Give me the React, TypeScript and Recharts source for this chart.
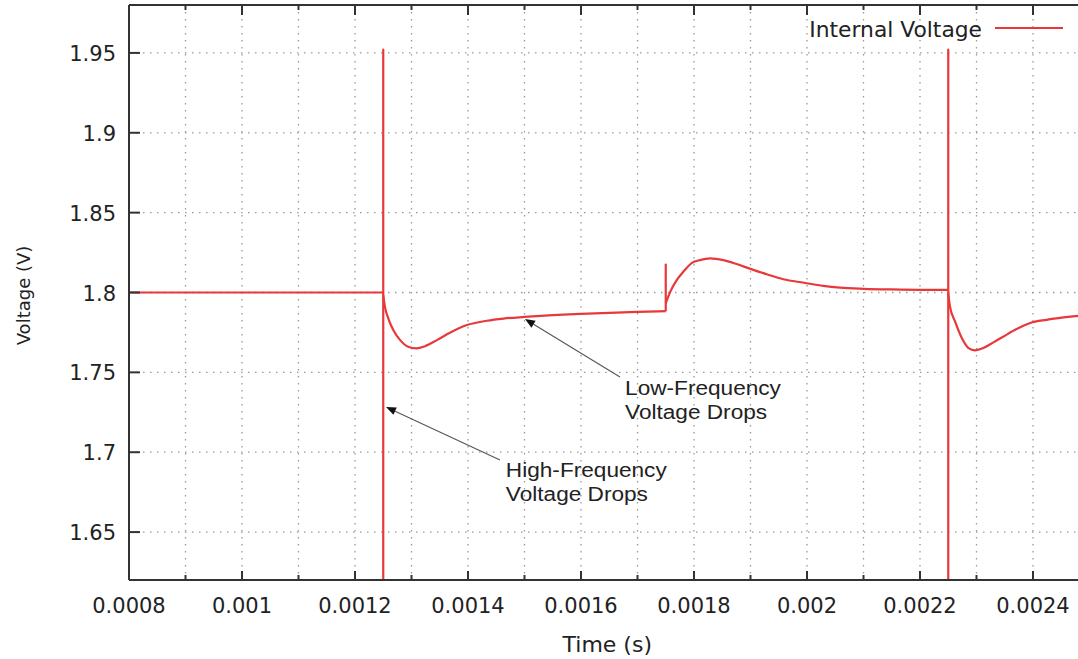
import React from 'react';
import {
  LineChart,
  Line,
  XAxis,
  YAxis,
  CartesianGrid,
  ReferenceLine,
  ReferenceDot,
  Legend,
} from 'recharts';

// ---- data (time in s, voltage in V) ----
// steady level before the first load step
const flatTime = [0.0008, 0.00125];
const flatVoltage = [1.8, 1.8];

// vertical transients (several samples at the same instant)
const spike1Time = [0.00125, 0.00125, 0.00125];
const spike1Voltage = [1.8, 1.952, 1.55];
const spike2Time = [0.00175, 0.00175, 0.00175];
const spike2Voltage = [1.7883, 1.8175, 1.7932];
const spike3Time = [0.00225, 0.00225, 0.00225];
const spike3Voltage = [1.8017, 1.952, 1.55];

// first low-frequency drop and recovery
const dip1Time = [
  0.00125, 0.001253, 0.001259, 0.001268, 0.00128, 0.001294, 0.001309, 0.001324, 0.001345,
  0.001368, 0.001398, 0.001433, 0.001463, 0.0015, 0.00155, 0.0016, 0.00165, 0.0017, 0.00175,
];
const dip1Voltage = [
  1.7983, 1.791, 1.7837, 1.7764, 1.7702, 1.766, 1.765, 1.7664, 1.7702,
  1.7748, 1.7796, 1.7823, 1.7837, 1.7847, 1.7858, 1.7866, 1.7873, 1.7879, 1.7883,
];

// overshoot after load release
const riseTime = [
  0.00175, 0.0017575, 0.0017694, 0.0017811, 0.0017965, 0.0018106, 0.0018283, 0.0018519,
  0.0018755, 0.0018973, 0.0019287, 0.0019581, 0.0019947, 0.0020289, 0.0020584, 0.0021,
  0.00215, 0.0022, 0.00225,
];
const riseVoltage = [
  1.7932, 1.8001, 1.8078, 1.813, 1.8186, 1.8203, 1.8214, 1.8203,
  1.8178, 1.8151, 1.8114, 1.8083, 1.8061, 1.8041, 1.803, 1.8023,
  1.8019, 1.8017, 1.8017,
];

// second low-frequency drop
const dip2Time = [
  0.00225, 0.002253, 0.002262, 0.002274, 0.002286, 0.002297, 0.002312, 0.00233, 0.002348,
  0.002371, 0.002395, 0.002424, 0.002454, 0.00248, 0.0025,
];
const dip2Voltage = [
  1.7996, 1.7913, 1.7819, 1.7715, 1.7652, 1.7638, 1.7652, 1.7688, 1.7725,
  1.7771, 1.7809, 1.7829, 1.7844, 1.7854, 1.786,
];

const xTicks = [
  0.0008, 0.0009, 0.001, 0.0011, 0.0012, 0.0013, 0.0014, 0.0015, 0.0016,
  0.0017, 0.0018, 0.0019, 0.002, 0.0021, 0.0022, 0.0023, 0.0024, 0.0025,
];
const xTickLabels = [
  '0.0008', '', '0.001', '', '0.0012', '', '0.0014', '', '0.0016',
  '', '0.0018', '', '0.002', '', '0.0022', '', '0.0024', '',
];
const yTicks = [1.65, 1.7, 1.75, 1.8, 1.85, 1.9, 1.95];
const yTickLabels = ['1.65', '1.7', '1.75', '1.8', '1.85', '1.9', '1.95'];

const seriesName = 'Internal Voltage';
const xAxisTitle = 'Time (s)';
const yAxisTitle = 'Voltage (V)';

const annotationLines = [
  ['Low-Frequency', 'Voltage Drops'],
  ['High-Frequency', 'Voltage Drops'],
];
const annotationTextAt = [
  [0.001678, 1.7358],
  [0.001467, 1.6845],
];
const arrowFrom = [
  [0.001669, 1.7471],
  [0.0014566, 1.6951],
];
const arrowTo = [
  [0.0015009, 1.7834],
  [0.0012549, 1.7283],
];

const toRows = (ts: number[], vs: number[]) => ts.map((t, i) => ({ t, v: vs[i] }));

const segments = [
  { key: 'flat', curve: 'linear', data: toRows(flatTime, flatVoltage) },
  { key: 'spike1', curve: 'linear', data: toRows(spike1Time, spike1Voltage) },
  { key: 'dip1', curve: 'monotone', data: toRows(dip1Time, dip1Voltage) },
  { key: 'spike2', curve: 'linear', data: toRows(spike2Time, spike2Voltage) },
  { key: 'rise', curve: 'monotone', data: toRows(riseTime, riseVoltage) },
  { key: 'spike3', curve: 'linear', data: toRows(spike3Time, spike3Voltage) },
  { key: 'dip2', curve: 'monotone', data: toRows(dip2Time, dip2Voltage) },
];

// ---- styling ----
const RED = '#e8383a';
const AXIS = '#333333';
const TEXT = '#222222';
const TICK_FONT = '"DejaVu Sans", Verdana, sans-serif';
const NOTE_FONT = '"Liberation Sans", Arial, sans-serif';

const BottomTick = (props: any) => {
  const { x, y, index } = props;
  const label = xTickLabels[index] || '';
  const major = label !== '';
  return (
    <g>
      <line x1={x} x2={x} y1={y} y2={y - (major ? 9 : 5)} stroke={AXIS} strokeWidth={2} />
      {major && (
        <text x={x} y={y + 33} textAnchor="middle" fontFamily={TICK_FONT} fontSize={21} fill={TEXT}>
          {label}
        </text>
      )}
    </g>
  );
};

const TopTick = (props: any) => {
  const { x, y, index } = props;
  const major = (xTickLabels[index] || '') !== '';
  return <line x1={x} x2={x} y1={y} y2={y + (major ? 10 : 5)} stroke={AXIS} strokeWidth={2} />;
};

const LeftTick = (props: any) => {
  const { x, y, index } = props;
  return (
    <g>
      <line x1={x} x2={x + 11} y1={y} y2={y} stroke={AXIS} strokeWidth={2} />
      <text x={x - 13} y={y + 8} textAnchor="end" fontFamily={TICK_FONT} fontSize={21} fill={TEXT}>
        {yTickLabels[index]}
      </text>
    </g>
  );
};

const ArrowShape = (props: any) => {
  const { x1, y1, x2, y2 } = props;
  const dx = x2 - x1;
  const dy = y2 - y1;
  const len = Math.sqrt(dx * dx + dy * dy) || 1;
  const ux = dx / len;
  const uy = dy / len;
  const hl = 10;
  const hw = 4;
  const bx = x2 - ux * hl;
  const by = y2 - uy * hl;
  const p = `${x2},${y2} ${bx - uy * hw},${by + ux * hw} ${bx + uy * hw},${by - ux * hw}`;
  return (
    <g>
      <line x1={x1} y1={y1} x2={bx} y2={by} stroke="#555" strokeWidth={1.1} />
      <polygon points={p} fill="#111" />
    </g>
  );
};

const makeNote = (lines: string[]) => (props: any) => {
  const { cx, cy } = props;
  return (
    <g transform={`translate(${cx},${cy}) scale(1.16,1)`}>
      {lines.map((s, i) => (
        <text key={i} x={0} y={i * 24} fontFamily={NOTE_FONT} fontSize={19.5} fill={TEXT}>
          {s}
        </text>
      ))}
    </g>
  );
};

const renderLegend = () => (
  <svg width={1078} height={50} style={{ overflow: 'visible', display: 'block' }}>
    <text x={982} y={37} textAnchor="end" fontFamily={TICK_FONT} fontSize={21.8} fill={TEXT}>
      {seriesName}
    </text>
    <line x1={995} x2={1063} y1={28} y2={28} stroke={RED} strokeWidth={2} />
  </svg>
);

export default function App() {
  return (
    <div
      style={{
        position: 'absolute',
        left: 0,
        top: 0,
        width: 1078,
        height: 659,
        overflow: 'hidden',
        background: '#ffffff',
      }}
    >
      <LineChart width={1092} height={659} margin={{ top: 0, right: 2.5, bottom: 0, left: 0 }}>
        <CartesianGrid stroke="#9a9a9a" strokeWidth={1.3} strokeDasharray="1.5 5.5" />
        <XAxis
          dataKey="t"
          type="number"
          domain={[0.0008, 0.0025]}
          allowDataOverflow
          ticks={xTicks}
          interval={0}
          height={79}
          tickSize={0}
          tickMargin={0}
          tickLine={false}
          tick={<BottomTick />}
          axisLine={{ stroke: AXIS, strokeWidth: 2 }}
          label={{
            content: (p: any) => {
              const vb = p.viewBox || {};
              return (
                <text
                  x={vb.x + vb.width / 2 - 2}
                  y={vb.y + vb.height - 7}
                  textAnchor="middle"
                  fontFamily={TICK_FONT}
                  fontSize={22}
                  fill={TEXT}
                >
                  {xAxisTitle}
                </text>
              );
            },
          }}
        />
        <XAxis
          xAxisId="top"
          orientation="top"
          dataKey="t"
          type="number"
          domain={[0.0008, 0.0025]}
          allowDataOverflow
          ticks={xTicks}
          interval={0}
          height={5}
          tickSize={0}
          tickMargin={0}
          tickLine={false}
          tick={<TopTick />}
          axisLine={{ stroke: AXIS, strokeWidth: 2 }}
        />
        <YAxis
          type="number"
          domain={[1.62, 1.98]}
          allowDataOverflow
          ticks={yTicks}
          interval={0}
          width={129}
          tickSize={0}
          tickMargin={0}
          tickLine={false}
          tick={<LeftTick />}
          axisLine={{ stroke: AXIS, strokeWidth: 2 }}
          label={{
            content: (p: any) => {
              const vb = p.viewBox || {};
              const cx = 23;
              const cy = vb.y + vb.height / 2 + 3;
              return (
                <text
                  x={cx}
                  y={cy}
                  transform={`rotate(-90 ${cx} ${cy})`}
                  textAnchor="middle"
                  dominantBaseline="central"
                  fontFamily={TICK_FONT}
                  fontSize={18}
                  fill={TEXT}
                >
                  {yAxisTitle}
                </text>
              );
            },
          }}
        />
        <Legend
          content={renderLegend}
          wrapperStyle={{ position: 'absolute', left: 0, top: 0, width: 1078, height: 0, overflow: 'visible' }}
        />
        {segments.map((s) => (
          <Line
            key={s.key}
            data={s.data}
            type={s.curve as any}
            dataKey="v"
            name={seriesName}
            legendType="none"
            stroke={RED}
            strokeWidth={2.2}
            strokeLinejoin="round"
            dot={false}
            activeDot={false}
            isAnimationActive={false}
          />
        ))}
        {arrowFrom.map((f, i) => (
          <ReferenceLine
            key={`arrow-${i}`}
            segment={[
              { x: f[0], y: f[1] },
              { x: arrowTo[i][0], y: arrowTo[i][1] },
            ]}
            shape={<ArrowShape />}
          />
        ))}
        {annotationTextAt.map((a, i) => (
          <ReferenceDot key={`note-${i}`} x={a[0]} y={a[1]} r={0} shape={makeNote(annotationLines[i])} />
        ))}
      </LineChart>
    </div>
  );
}
